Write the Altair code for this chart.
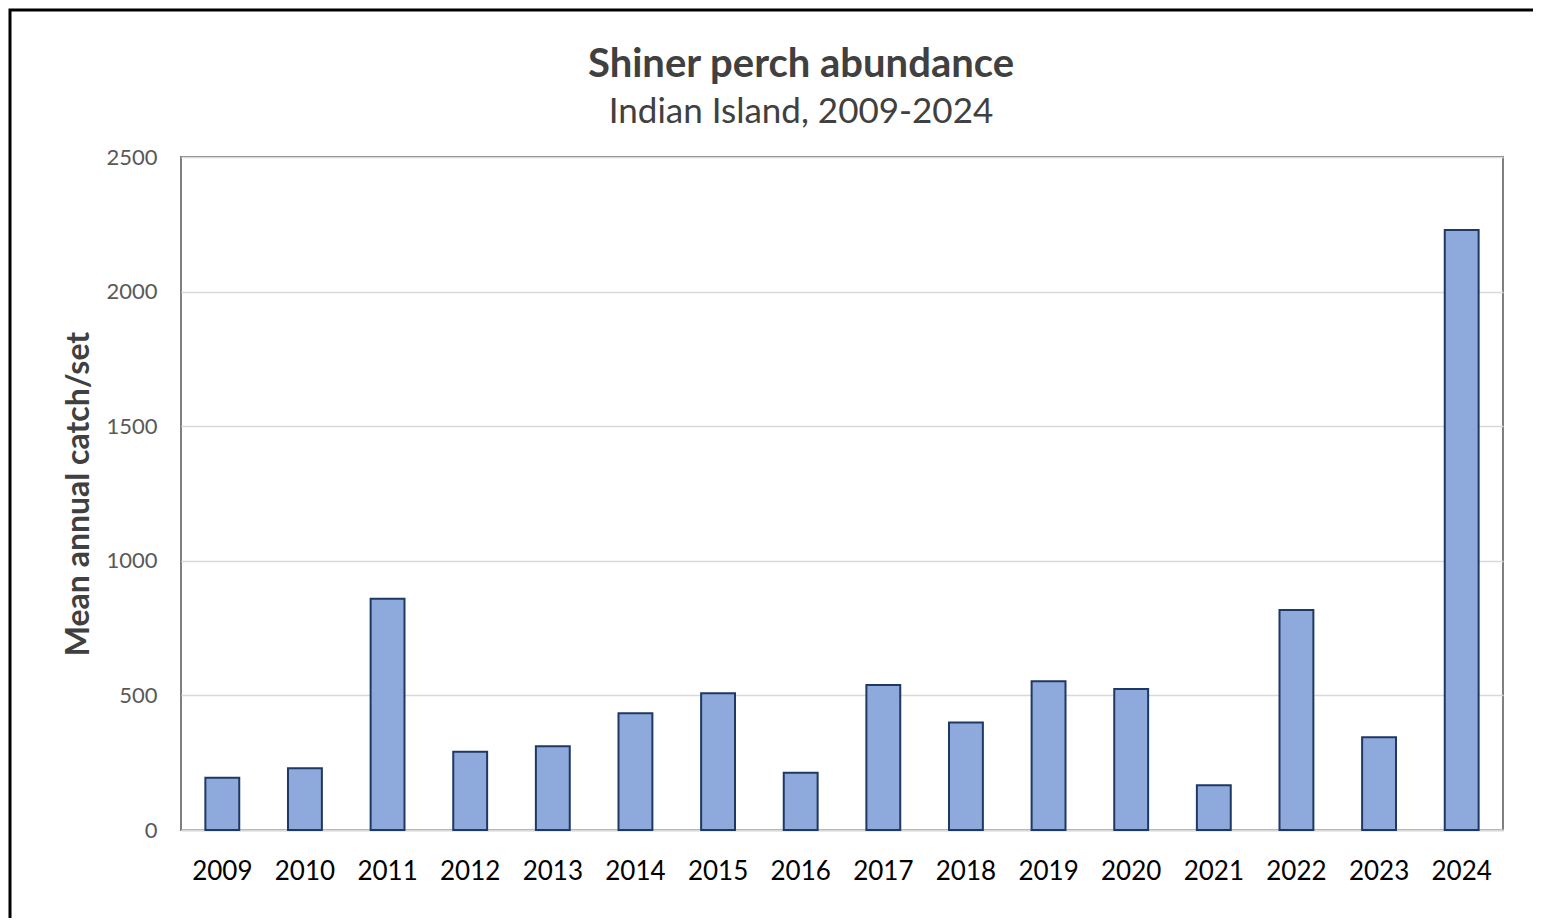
import altair as alt
import pandas as pd

years = ["2009", "2010", "2011", "2012", "2013", "2014", "2015", "2016",
         "2017", "2018", "2019", "2020", "2021", "2022", "2023", "2024"]
catch = [194, 229, 859, 291, 311, 434, 508, 213,
         539, 399, 553, 524, 166, 817, 345, 2229]
y_ticks = [0, 500, 1000, 1500, 2000, 2500]
title_text = "Shiner perch abundance"
subtitle_text = "Indian Island, 2009-2024"

df = pd.DataFrame({"year": years, "catch": catch})

FONT = "Lato"

bars = alt.Chart(df).mark_bar(
    fill="#8EA9DB", stroke="#1F3864", strokeWidth=2
).encode(
    x=alt.X("year:N", sort=years,
            scale=alt.Scale(paddingInner=0.59, paddingOuter=0.295),
            axis=alt.Axis(title=None, labelAngle=0, ticks=False, domain=True,
                          domainColor="#D9D9D9", domainWidth=2,
                          labelFontSize=26, labelColor="#000000",
                          labelFont=FONT, labelPadding=28, grid=False)),
    y=alt.Y("catch:Q",
            scale=alt.Scale(domain=[0, 2500], nice=False),
            axis=alt.Axis(title="Mean annual catch/set", values=y_ticks,
                          format="d",
                          ticks=False, domain=False, grid=True,
                          gridColor="#D9D9D9", gridWidth=1.5,
                          labelFontSize=22, labelColor="#595959",
                          labelFont=FONT, labelPadding=24,
                          titleFont=FONT, titleFontSize=32,
                          titleFontWeight="bold", titleColor="#404040",
                          titlePadding=10)),
)

frame = alt.Chart(alt.Data(values=[{"a": 1}])).mark_rect(
    fill="transparent", stroke="#000000", strokeWidth=3
).encode(
    x=alt.value(-171), x2=alt.value(1420),
    y=alt.value(-147), y2=alt.value(820),
)

title_df = pd.DataFrame({"t": [title_text]})
sub_df = pd.DataFrame({"t": [subtitle_text]})

title_mark = alt.Chart(title_df).mark_text(
    font=FONT, fontSize=40, fontWeight="bold", color="#404040",
    align="center", baseline="alphabetic"
).encode(text="t:N", x=alt.value(620), y=alt.value(-80))

sub_mark = alt.Chart(sub_df).mark_text(
    font=FONT, fontSize=35, color="#404040",
    align="center", baseline="alphabetic"
).encode(text="t:N", x=alt.value(620), y=alt.value(-34))

chart = alt.layer(frame, bars, title_mark, sub_mark).properties(
    width=1322,
    height=673,
    background="#FFFFFF",
    padding={"left": 173, "top": 149, "right": 30, "bottom": 88},
    autosize=alt.AutoSizeParams(type="none"),
).configure_view(
    stroke="#7F7F7F", strokeWidth=2
)

chart.save("out.html", embed_options={"renderer": "svg", "actions": False})
